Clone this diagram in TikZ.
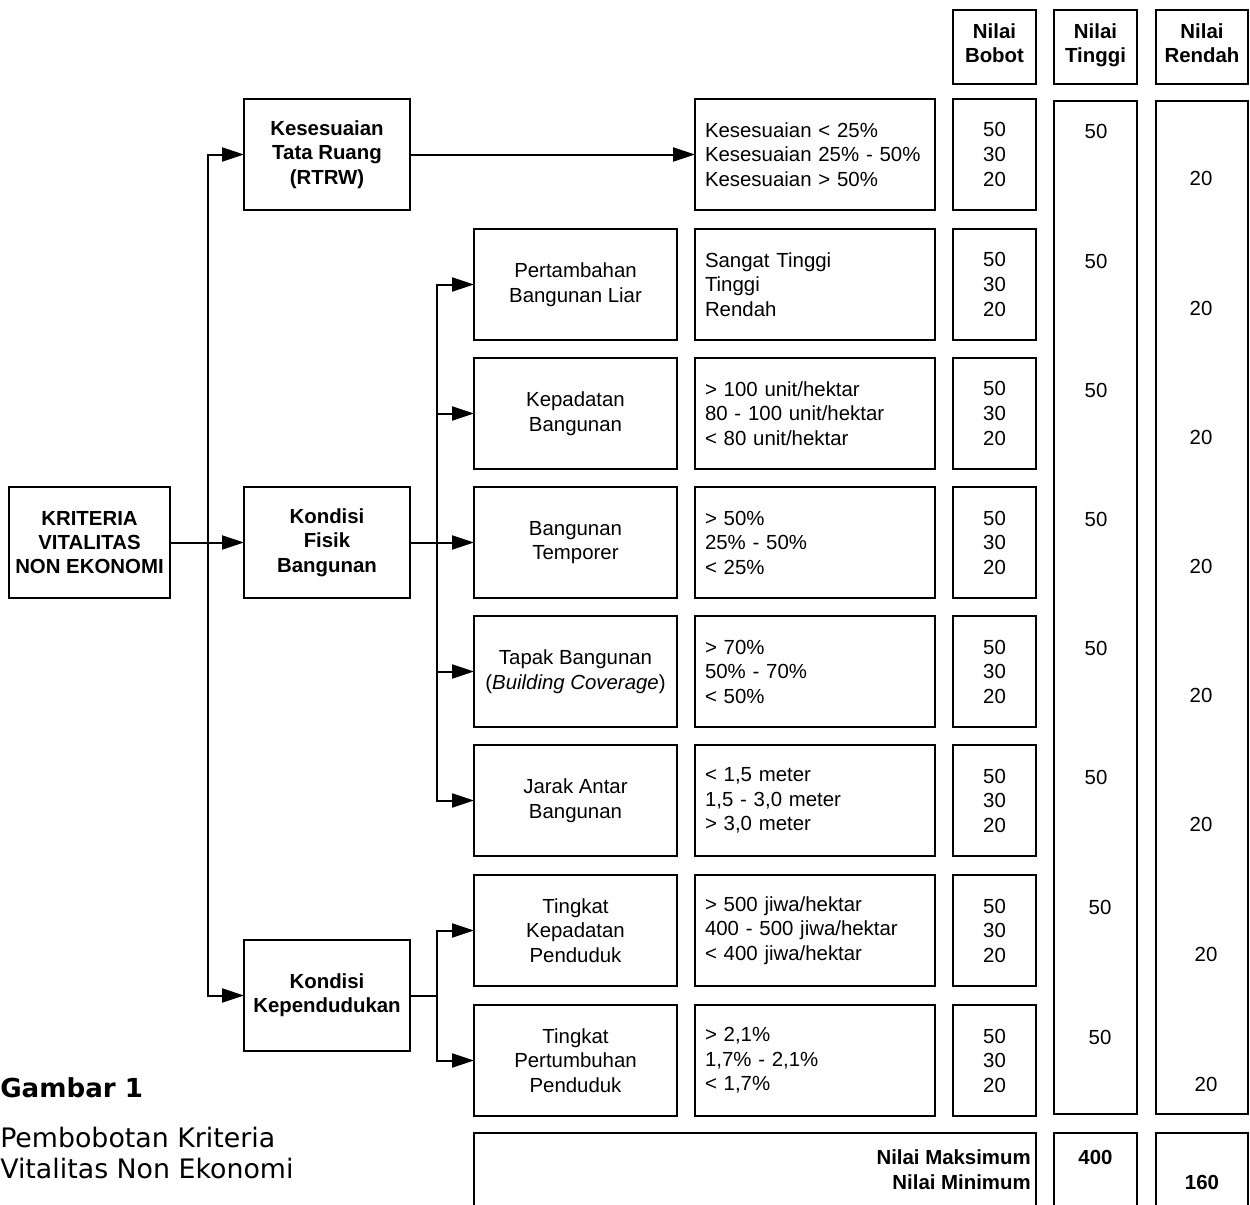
\documentclass[tikz,border=0pt]{standalone}
\usepackage{fontspec}
\setmainfont{Liberation Sans}
\newfontfamily\capfont{DejaVu Sans}
\usetikzlibrary{arrows.meta}

\begin{document}
\begin{tikzpicture}[x=0.75pt,y=-0.75pt,
  font=\fontsize{15.3pt}{18.4pt}\selectfont,
  cell/.style 2 args={draw, line width=0.9pt, inner sep=0pt, outer sep=0pt,
    minimum width=#1*0.75pt, minimum height=#2*0.75pt, align=center},
  lvl/.style={cell={166}{111}, font=\fontsize{15.3pt}{18.2pt}\selectfont\bfseries},
  sub/.style={cell={203}{111}},
  crit/.style={cell={240}{111}, align=left, text width=165pt},
  bobot/.style={cell={83}{111}},
  head/.style={cell={#1}{74}, font=\fontsize{15.3pt}{18.2pt}\selectfont\bfseries},
  val/.style={inner sep=0pt},
  link/.style={line width=1.5pt},
  arr/.style={link, -{Triangle[length=16.5pt,width=10.5pt]}}
]
\clip (0,0) rectangle (1250,1204);

% column headers
\node[head=83] (hB) at (994.5,47) {Nilai\\Bobot\strut};
\node[head=83] (hT) at (1095.5,47) {Nilai\\Tinggi\strut};
\node[head=92] (hR) at (1202,47) {Nilai\\Rendah\strut};

% long value columns
\node[cell={83}{1013}] (colT) at (1095.5,607.5) {};
\node[cell={92}{1013}] (colR) at (1202,607.5) {};

% root and first level
\node[cell={161}{111}, font=\fontsize{15.3pt}{18.2pt}\selectfont\bfseries] (root) at (89.5,542.5) {KRITERIA\\VITALITAS\\NON EKONOMI};
\node[lvl] (tata) at (327,154.5) {Kesesuaian\\Tata Ruang\\(RTRW)};
\node[lvl] (fisik) at (327,542.5) {Kondisi\\Fisik\\Bangunan};
\node[lvl] (pend) at (327,995.5) {Kondisi\\Kependudukan};

% sub-criteria
\node[sub] (s2) at (575.5,284.5) {Pertambahan\\Bangunan Liar};
\node[sub] (s3) at (575.5,413.5) {Kepadatan\\Bangunan};
\node[sub] (s4) at (575.5,542.5) {Bangunan\\Temporer};
\node[sub] (s5) at (575.5,671.5) {Tapak Bangunan\\(\textit{Building Coverage})};
\node[sub] (s6) at (575.5,800.5) {Jarak Antar\\Bangunan};
\node[sub] (s7) at (575.5,930.5) {Tingkat\\Kepadatan\\Penduduk};
\node[sub] (s8) at (575.5,1060.5) {Tingkat\\Pertumbuhan\\Penduduk};

% classes
\node[crit] (c1) at (815,154.5) {Kesesuaian < 25\%\\Kesesuaian 25\% - 50\%\\Kesesuaian > 50\%};
\node[crit] (c2) at (815,284.5) {Sangat Tinggi\\Tinggi\\Rendah};
\node[crit] (c3) at (815,413.5) {> 100 unit/hektar\\80 - 100 unit/hektar\\< 80 unit/hektar};
\node[crit] (c4) at (815,542.5) {> 50\%\\25\% - 50\%\\< 25\%};
\node[crit] (c5) at (815,671.5) {> 70\%\\50\% - 70\%\\< 50\%};
\node[crit] (c6) at (815,800.5) {< 1,5 meter\\1,5 - 3,0 meter\\> 3,0 meter};
\node[crit] (c7) at (815,930.5) {> 500 jiwa/hektar\\400 - 500 jiwa/hektar\\< 400 jiwa/hektar};
\node[crit] (c8) at (815,1060.5) {> 2,1\%\\1,7\% - 2,1\%\\< 1,7\%};

% weights
\foreach \i/\y in {1/154.5,2/284.5,3/413.5,4/542.5,5/671.5,6/800.5,7/930.5,8/1060.5}
  \node[bobot] (b\i) at (994.5,\y) {50\\30\\20};

% highest and lowest values per criterion
\foreach \i/\y/\xt/\xr in {1/154.5/1096/1201,2/284.5/1096/1201,3/413.5/1096/1201,
    4/542.5/1096/1201,5/671.5/1096/1201,6/800.5/1096/1201,7/930.5/1100/1206,8/1060.5/1100/1206}{
  \node[val] (t\i) at (\xt,\y-23.5) {50};
  \node[val] (r\i) at (\xr,\y+23.5) {20};
}

% totals
\node[cell={562}{80}] (tot) at (755,1173) {};
\node[cell={83}{80}] (totT) at (1095.5,1173) {};
\node[cell={92}{80}] (totR) at (1202,1173) {};
\node[val, anchor=east, align=right, font=\fontsize{15.3pt}{18.6pt}\selectfont\bfseries]
  (totlbl) at (1031,1169.5) {Nilai Maksimum\\Nilai Minimum};
\node[val, font=\fontsize{15.3pt}{18pt}\selectfont\bfseries] (maxv) at (1095.5,1157) {400};
\node[val, font=\fontsize{15.3pt}{18pt}\selectfont\bfseries] (minv) at (1202,1182) {160};

% connectors: root to first level
\coordinate (j1) at (208,542.5);
\draw[arr] (root.east) -- (fisik.west);
\draw[arr] (j1) |- (tata.west);
\draw[arr] (j1) |- (pend.west);
\draw[arr] (tata.east) -- (c1.west);

% connectors: physical condition to sub-criteria
\coordinate (j2) at (437,542.5);
\draw[arr] (fisik.east) -- (s4.west);
\foreach \s in {s2,s3,s5,s6}
  \draw[arr] (j2) |- (\s.west);

% connectors: population to sub-criteria
\coordinate (j3) at (437,995.5);
\draw[link] (pend.east) -- (j3);
\draw[arr] (j3) |- (s7.west);
\draw[arr] (j3) |- (s8.west);

% caption
\node[val, anchor=base west, font=\capfont\bfseries\fontsize{19.6pt}{24pt}\selectfont] (cap) at (0,1097) {Gambar 1};
\node[val, anchor=base west, align=left, font=\capfont\fontsize{20.1pt}{23.25pt}\selectfont] (capt) at (0,1178) {Pembobotan Kriteria\\Vitalitas Non Ekonomi};
\end{tikzpicture}
\end{document}
